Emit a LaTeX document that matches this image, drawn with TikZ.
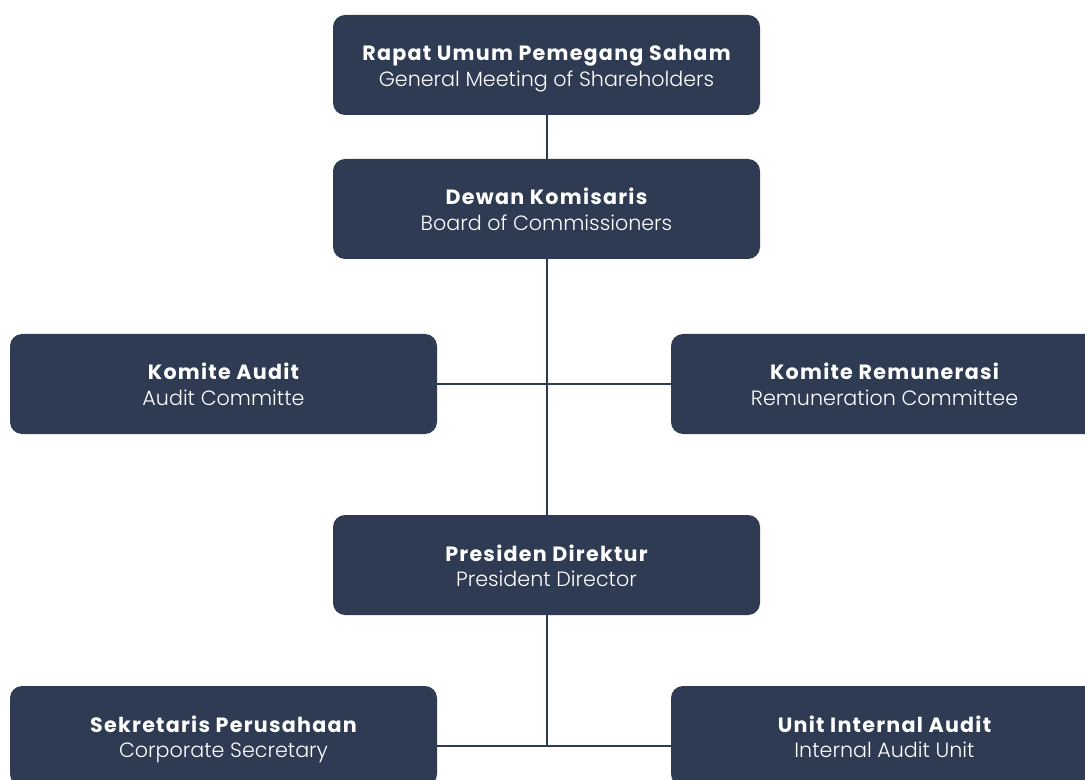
\documentclass[tikz,border=0pt]{standalone}
\usepackage{fontspec}
\setmainfont{Poppins}[BoldFont=* Bold]
\newfontfamily\plight{Poppins}[UprightFont=* Light]
\newfontfamily\pbold{Poppins}[UprightFont=* Bold,LetterSpace=6]
\definecolor{boxblue}{HTML}{2E3B52}
\newcommand\orgtext[2]{\lineskiplimit=-30pt\relax\rule{0pt}{19.3pt}{\pbold #1}\\{\plight #2}\rule[-6pt]{0pt}{6pt}}
\begin{document}
\begin{tikzpicture}[x=0.75pt,y=-0.75pt,
  orgbox/.style={fill=boxblue,rounded corners=9pt,minimum width=320.25pt,minimum height=75pt,
    text=white,align=center,inner sep=0pt,
    font=\fontsize{15.5pt}{19.3pt}\selectfont},
  link/.style={draw=boxblue,line width=1.5pt}]
\useasboundingbox (0,0) rectangle (1085,780);
\node[orgbox] (rups) at (546.5,65) {\orgtext{Rapat Umum Pemegang Saham}{General Meeting of Shareholders}};
\node[orgbox] (dk) at (546.5,209) {\orgtext{Dewan Komisaris}{Board of Commissioners}};
\node[orgbox] (ka) at (223.5,384) {\orgtext{Komite Audit}{Audit Committe}};
\node[orgbox] (kr) at (884.5,384) {\orgtext{Komite Remunerasi}{Remuneration Committee}};
\node[orgbox] (pd) at (546.5,565) {\orgtext{Presiden Direktur}{President Director}};
\node[orgbox] (sp) at (223.5,736) {\orgtext{Sekretaris Perusahaan}{Corporate Secretary}};
\node[orgbox] (uia) at (884.5,736) {\orgtext{Unit Internal Audit}{Internal Audit Unit}};
\coordinate (j2) at (546.5,746);
\draw[link] (rups.south) -- (dk.north);
\draw[link] (dk.south) -- (pd.north);
\draw[link] (ka.east) -- (kr.west);
\draw[link] (pd.south) -- (j2);
\draw[link] (sp.east |- j2) -- (uia.west |- j2);
\end{tikzpicture}
\end{document}
